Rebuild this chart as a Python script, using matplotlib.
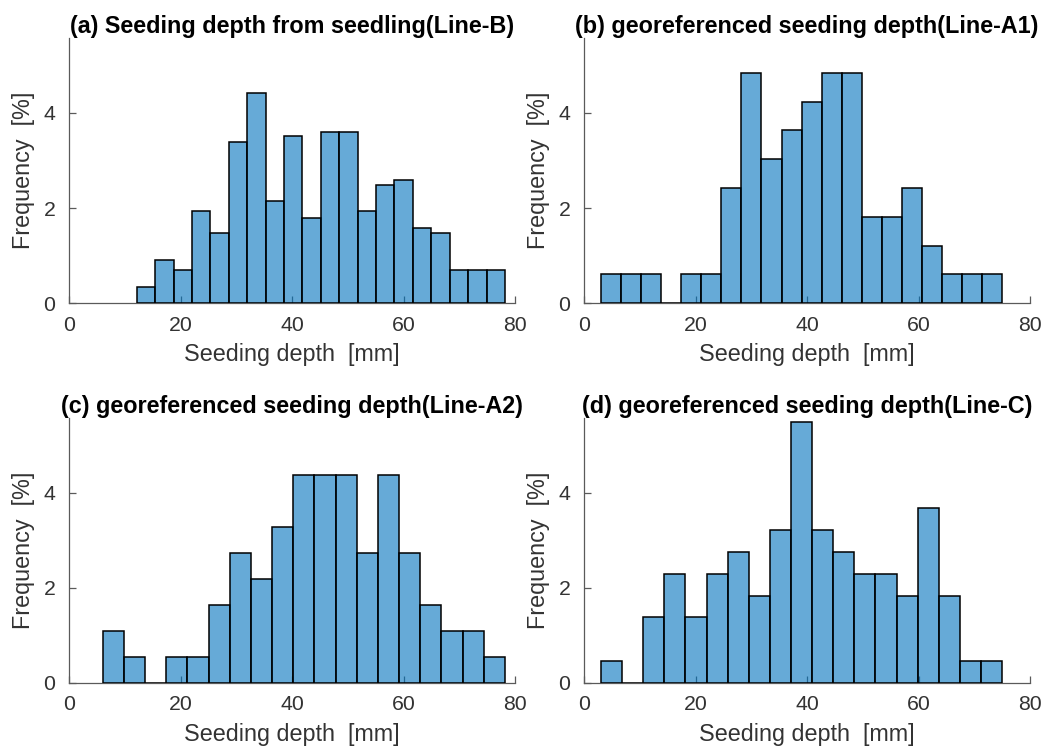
import numpy as np
import matplotlib
matplotlib.use("Agg")
import matplotlib.pyplot as plt

plt.rcParams['font.family'] = ['Liberation Sans', 'DejaVu Sans']

titles = [
    "(a) Seeding depth from seedling(Line-B)",
    "(b) georeferenced seeding depth(Line-A1)",
    "(c) georeferenced seeding depth(Line-A2)",
    "(d) georeferenced seeding depth(Line-C)",
]

# bin ranges (first edge, last edge) in mm
range_a = (12.1, 78.2)
range_b = (3.0, 75.0)
range_c = (6.0, 78.2)
range_d = (3.0, 75.0)

freq_a = [0.34, 0.91, 0.69, 1.93, 1.47, 3.40, 4.41, 2.15, 3.51, 1.80,
          3.61, 3.61, 1.93, 2.49, 2.60, 1.59, 1.47, 0.69, 0.69, 0.69]
freq_b = [0.606, 0.606, 0.606, 0.0, 0.606, 0.606, 2.42, 4.85, 3.03, 3.64,
          4.24, 4.85, 4.85, 1.82, 1.82, 2.42, 1.21, 0.606, 0.606, 0.606]
freq_c = [1.09, 0.547, 0.0, 0.547, 0.547, 1.64, 2.73, 2.19, 3.28, 4.37,
          4.37, 4.37, 2.73, 4.37, 2.73, 1.64, 1.09, 1.09, 0.547]
freq_d = [0.458, 0.0, 1.375, 2.29, 1.375, 2.29, 2.75, 1.83, 3.21, 5.50,
          3.21, 2.75, 2.29, 2.29, 1.83, 3.67, 1.83, 0.458, 0.458]

xticks = [0, 20, 40, 60, 80]
yticks = [0, 2, 4]
xlabel = "Seeding depth  [mm]"
ylabel = "Frequency  [%]"

ranges = [range_a, range_b, range_c, range_d]
freqs = [freq_a, freq_b, freq_c, freq_d]

W, H = 1045, 753
fig = plt.figure(figsize=(W / 100, H / 100), dpi=100)

# axes boxes in pixels: left, right, top, bottom
boxes = [
    (69.3, 515.0, 38.3, 303.3),
    (584.3, 1030.0, 38.3, 303.3),
    (69.3, 515.0, 418.3, 682.7),
    (584.3, 1030.0, 418.3, 682.7),
]

face = (0.0, 0.447, 0.741, 0.6)
axcol = '#5a5a5a'
txtcol = '#333333'

for box, rng, fr, title in zip(boxes, ranges, freqs, titles):
    l, r, t, b = box
    ax = fig.add_axes([l / W, 1 - b / H, (r - l) / W, (b - t) / H])
    edges = np.linspace(rng[0], rng[1], len(fr) + 1)
    ax.bar(edges[:-1], fr, width=np.diff(edges), align='edge',
           facecolor=face, edgecolor='black', linewidth=1.1, zorder=2)
    ax.set_axisbelow(True)
    ax.set_xlim(0, 80)
    ax.set_ylim(0, 5.57)
    ax.set_xticks(xticks)
    ax.set_yticks(yticks)
    for s in ['top', 'right']:
        ax.spines[s].set_visible(False)
    for s in ['left', 'bottom']:
        ax.spines[s].set_color(axcol)
        ax.spines[s].set_linewidth(0.9)
        ax.spines[s].set_zorder(0.5)
    ax.tick_params(direction='in', length=5, width=0.9, color=axcol,
                   labelsize=15.3, labelcolor=txtcol, pad=9)
    ax.tick_params(axis='y', pad=10)
    ax.set_xlabel(xlabel, fontsize=16.8, color=txtcol, labelpad=6)
    ax.set_ylabel(ylabel, fontsize=16.8, color=txtcol, labelpad=6)
    ax.set_title(title, fontsize=16.8, fontweight='bold', pad=1.5)

fig.savefig("out.png", dpi=100)
